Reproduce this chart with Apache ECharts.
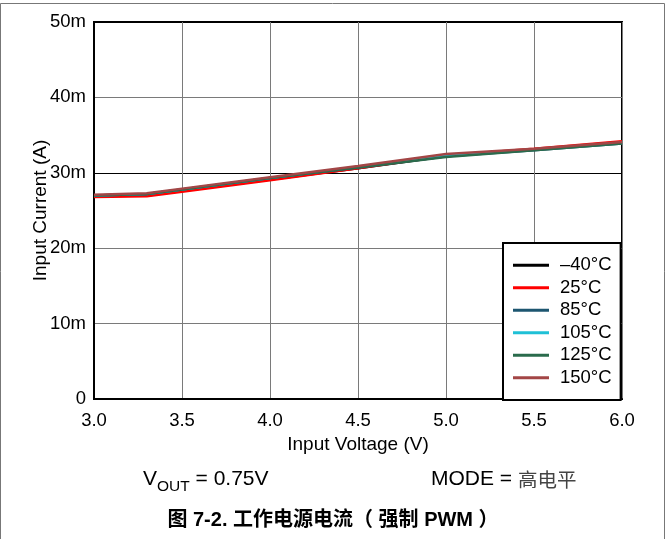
<!DOCTYPE html>
<html>
<head>
<meta charset="utf-8">
<script src="https://cdn.jsdelivr.net/npm/echarts@6/dist/echarts.min.js"></script>
<style>
  html, body { margin: 0; padding: 0; background: #fff; }
  #chart { width: 666px; height: 539px; }
</style>
</head>
<body>
<div id="chart"></div>
<script>
// Input voltage sweep points (V)
const inputVoltage = [3.0, 3.3, 3.5, 4.0, 4.5, 5.0, 5.5, 6.0];

// Input current per temperature (mA)
const currentMinus40 = [26.9, 27.0, 27.6, 29.1, 30.6, 32.2, 33.1, 34.0];
const current25 = [26.8, 26.9, 27.5, 29.0, 30.6, 32.3, 33.2, 34.2];
const current85 = [27.0, 27.2, 27.8, 29.3, 30.7, 32.2, 33.0, 33.9];
const current105 = [27.0, 27.2, 27.8, 29.3, 30.8, 32.3, 33.1, 34.0];
const current125 = [27.0, 27.2, 27.8, 29.3, 30.7, 32.1, 33.0, 33.9];
const current150 = [27.1, 27.3, 27.9, 29.4, 30.9, 32.5, 33.2, 34.1];

const seriesNames = ['\u201340\u00b0C', '25\u00b0C', '85\u00b0C', '105\u00b0C', '125\u00b0C', '150\u00b0C'];
const seriesColors = ['#000000', '#ff0000', '#1d5670', '#1fc0d6', '#2a6b4c', '#a34646'];
const seriesData = [currentMinus40, current25, current85, current105, current125, current150];

const xTicks = [3.0, 3.5, 4.0, 4.5, 5.0, 5.5, 6.0];
const yTicks = [0, 10, 20, 30, 40, 50];

const FONT = '"Liberation Sans", Arial, "Noto Sans CJK SC", sans-serif';

const chart = echarts.init(document.getElementById('chart'), null, { renderer: 'canvas' });

const series = seriesData.map((vals, i) => ({
  name: seriesNames[i],
  type: 'line',
  data: vals.map((v, k) => [inputVoltage[k], v]),
  symbol: 'none',
  color: seriesColors[i],
  lineStyle: { width: 2.5, color: seriesColors[i] },
  z: 3 + i,
  animation: false
}));

chart.setOption({
  animation: false,
  backgroundColor: '#fff',
  grid: {
    left: 94, right: 44, top: 22, bottom: 140,
    show: true, borderColor: '#000', borderWidth: 2, backgroundColor: 'transparent'
  },
  xAxis: {
    type: 'value',
    min: xTicks[0], max: xTicks[xTicks.length - 1], interval: 0.5,
    name: 'Input Voltage (V)',
    nameLocation: 'middle', nameGap: 36,
    nameMoveOverlap: false,
    nameTextStyle: { fontFamily: FONT, fontSize: 19, color: '#000' },
    axisLine: { show: true, lineStyle: { color: '#000', width: 2 } },
    axisTick: { show: false },
    axisLabel: { fontFamily: FONT, fontSize: 18.5, color: '#000', margin: 13,
      formatter: v => v.toFixed(1) },
    splitLine: { show: true, lineStyle: { color: '#7a7a7a', width: 1 } }
  },
  yAxis: {
    type: 'value',
    min: yTicks[0], max: yTicks[yTicks.length - 1], interval: 10,
    name: 'Input Current (A)',
    nameLocation: 'middle', nameGap: 44,
    nameMoveOverlap: false,
    nameTextStyle: { fontFamily: FONT, fontSize: 19, color: '#000' },
    axisLine: { show: true, lineStyle: { color: '#000', width: 2 } },
    axisTick: { show: false },
    axisLabel: { fontFamily: FONT, fontSize: 18.5, color: '#000', margin: 8,
      formatter: v => (v === 0 ? '0' : v + 'm') },
    splitLine: { show: true, lineStyle: { color: ['#7a7a7a', '#7a7a7a', '#7a7a7a', '#000', '#7a7a7a', '#000'], width: 1 } }
  },
  legend: {
    orient: 'vertical',
    left: 503, top: 243,
    padding: [13, 9, 13, 10],
    backgroundColor: '#fff',
    borderColor: '#000', borderWidth: 2,
    itemWidth: 36, itemHeight: 3, itemGap: 4,
    icon: 'rect',
    textStyle: { fontFamily: FONT, fontSize: 18.5, color: '#000', lineHeight: 18.2, padding: [0, 0, 0, 6] },
    data: seriesNames,
    z: 20
  },
  graphic: [
    {
      type: 'rect', silent: true, z: 0,
      shape: { x: 0.5, y: 3.5, width: 664, height: 560 },
      style: { fill: 'none', stroke: '#777', lineWidth: 1 }
    },
    {
      type: 'text', left: 143, top: 469, z: 10,
      style: {
        text: '{v|V}{s|OUT}{v| = 0.75V}',
        rich: {
          v: { fontFamily: FONT, fontSize: 21, fill: '#000', verticalAlign: 'bottom' },
          s: { fontFamily: FONT, fontSize: 15.5, fill: '#000', verticalAlign: 'bottom', padding: [0, 0, -4, 0] }
        }
      }
    },
    {
      type: 'text', left: 431, top: 469, z: 10,
      style: {
        text: 'MODE = {c|高电平}',
        fontFamily: FONT, fontSize: 21, fill: '#000',
        rich: { c: { fontFamily: '"Noto Sans CJK SC", sans-serif', fontSize: 19.5, fill: '#444' } }
      }
    },
    {
      type: 'text', left: 'center', top: 510, z: 10,
      style: {
        text: '图 7-2. 工作电源电流（ 强制 PWM ）',
        fontFamily: FONT, fontSize: 20, fontWeight: 'bold', fill: '#000'
      }
    }
  ],
  series: series
});
</script>
</body>
</html>
